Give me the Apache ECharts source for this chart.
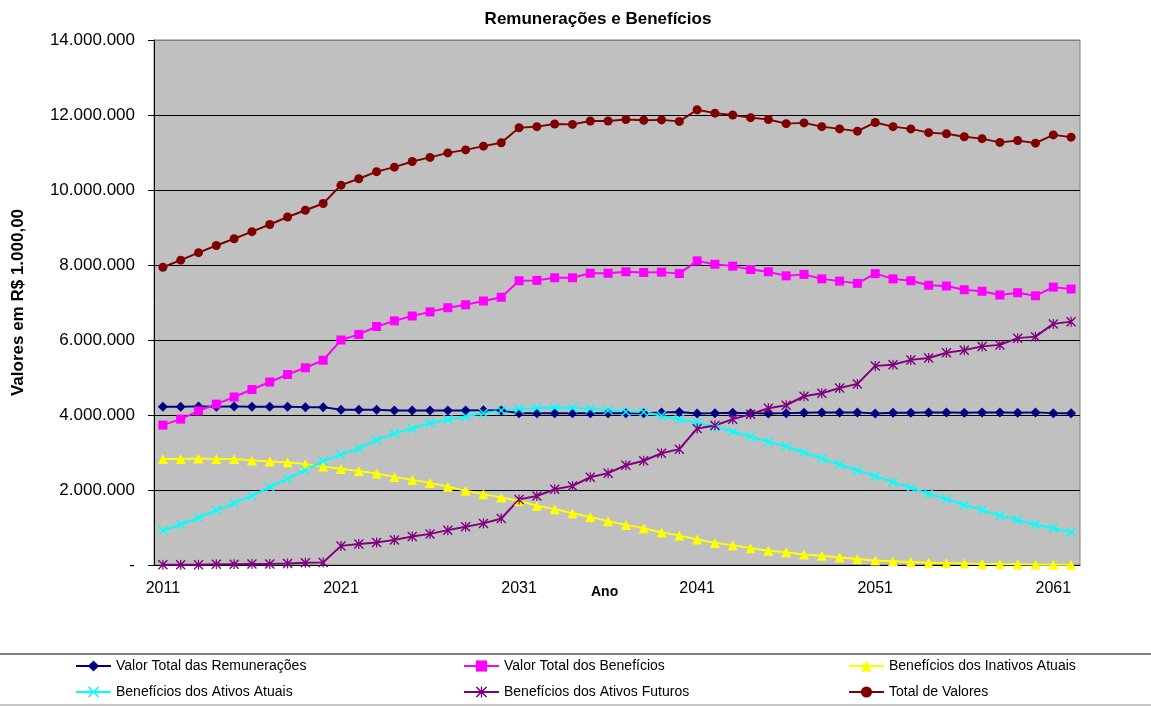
<!DOCTYPE html>
<html>
<head>
<meta charset="utf-8">
<script src="https://cdn.jsdelivr.net/npm/echarts@6/dist/echarts.min.js"></script>
<style>
html,body{margin:0;padding:0;background:#fff;}
#chart{width:1151px;height:706px;}
</style>
</head>
<body>
<div id="chart"></div>
<script>
const years = ['2011','2012','2013','2014','2015','2016','2017','2018','2019','2020',
'2021','2022','2023','2024','2025','2026','2027','2028','2029','2030',
'2031','2032','2033','2034','2035','2036','2037','2038','2039','2040',
'2041','2042','2043','2044','2045','2046','2047','2048','2049','2050',
'2051','2052','2053','2054','2055','2056','2057','2058','2059','2060',
'2061','2062'];

const remuneracoes = [4220000,4220000,4230000,4220000,4230000,4220000,4220000,4220000,4210000,4210000,
4140000,4140000,4140000,4120000,4120000,4120000,4120000,4120000,4130000,4120000,
4050000,4050000,4050000,4050000,4050000,4050000,4050000,4050000,4070000,4080000,
4040000,4050000,4060000,4050000,4040000,4050000,4060000,4070000,4070000,4070000,
4040000,4060000,4060000,4070000,4070000,4060000,4070000,4070000,4060000,4070000,
4050000,4050000];

const beneficios = [3730000,3890000,4110000,4290000,4480000,4680000,4880000,5080000,5260000,5460000,
6000000,6150000,6360000,6510000,6640000,6750000,6860000,6940000,7040000,7140000,
7580000,7590000,7660000,7660000,7780000,7780000,7820000,7800000,7810000,7770000,
8110000,8020000,7970000,7880000,7820000,7710000,7750000,7630000,7570000,7510000,
7770000,7630000,7580000,7460000,7440000,7340000,7300000,7200000,7260000,7180000,
7410000,7360000];

const inativosAtuais = [2830000,2830000,2840000,2830000,2830000,2790000,2760000,2740000,2690000,2630000,
2560000,2510000,2440000,2350000,2270000,2190000,2090000,1980000,1890000,1800000,
1710000,1580000,1490000,1380000,1280000,1170000,1070000,980000,870000,790000,
680000,590000,530000,450000,380000,340000,280000,250000,200000,160000,
120000,100000,80000,60000,50000,40000,30000,20000,20000,10000,
10000,10000];

const ativosAtuais = [920000,1080000,1260000,1460000,1650000,1850000,2080000,2300000,2530000,2770000,
2950000,3110000,3330000,3510000,3640000,3780000,3880000,3960000,4050000,4120000,
4160000,4190000,4200000,4190000,4170000,4130000,4090000,4080000,3980000,3880000,
3800000,3690000,3560000,3420000,3290000,3160000,3000000,2840000,2680000,2520000,
2370000,2210000,2060000,1900000,1760000,1600000,1470000,1320000,1200000,1080000,
980000,870000];

const ativosFuturos = [10000,10000,10000,20000,20000,30000,30000,40000,60000,70000,
510000,560000,600000,670000,760000,830000,930000,1020000,1110000,1240000,
1750000,1840000,2020000,2110000,2340000,2450000,2660000,2780000,2980000,3090000,
3640000,3720000,3890000,4020000,4180000,4260000,4500000,4580000,4720000,4830000,
5310000,5340000,5470000,5520000,5660000,5730000,5830000,5870000,6050000,6090000,
6430000,6490000];

const totalValores = [7940000,8130000,8330000,8520000,8700000,8890000,9080000,9280000,9460000,9640000,
10130000,10300000,10490000,10610000,10760000,10870000,10990000,11070000,11170000,11260000,
11660000,11690000,11760000,11750000,11840000,11840000,11880000,11860000,11870000,11830000,
12140000,12050000,12000000,11930000,11880000,11770000,11790000,11690000,11630000,11570000,
11800000,11690000,11630000,11530000,11500000,11420000,11370000,11270000,11320000,11250000,
11470000,11410000];

const seriesNames = ['Valor Total das Remunerações','Valor Total dos Benefícios','Benefícios dos Inativos Atuais',
'Benefícios dos Ativos Atuais','Benefícios dos Ativos Futuros','Total de Valores'];

const X_PATH = 'path://M0,1L1,0L5,4L9,0L10,1L6,5L10,9L9,10L5,6L1,10L0,9L4,5Z';
const STAR_PATH = 'path://M0,1L1,0L5,4L9,0L10,1L6,5L10,9L9,10L5,6L1,10L0,9L4,5ZM4.4,0L5.6,0L5.6,10L4.4,10Z';

function fmt(v){
  if (v === 0) return '-';
  return String(v).replace(/\B(?=(\d{3})+(?!\d))/g, '.');
}

const FONT = 'Liberation Sans, Arial, sans-serif';

function mk(name, data, color, symbol, size){
  return {
    name: name, type: 'line', data: data,
    symbol: symbol, symbolSize: size,
    lineStyle: {color: color, width: 2},
    itemStyle: {color: color},
    animation: false
  };
}

function lg(name, left, top){
  return {
    data: [name], left: left, top: top, orient: 'horizontal',
    itemWidth: 35, itemHeight: 14, padding: 0,
    textStyle: {fontFamily: FONT, fontSize: 14, color: '#000'}
  };
}

const chart = echarts.init(document.getElementById('chart'), null, {renderer: 'canvas'});
chart.setOption({
  backgroundColor: '#fff',
  textStyle: {fontFamily: FONT},
  title: {
    text: 'Remunerações e Benefícios',
    left: 593, top: 6, textAlign: 'center',
    textStyle: {fontFamily: FONT, fontSize: 17, fontWeight: 'bold', color: '#000'}
  },
  grid: {
    left: 154, right: 71, top: 40, bottom: 141,
    show: true, backgroundColor: '#C0C0C0', borderColor: '#808080', borderWidth: 1
  },
  legend: [
    lg(seriesNames[0], 75, 659),
    lg(seriesNames[1], 463, 659),
    lg(seriesNames[2], 848, 659),
    lg(seriesNames[3], 75, 685),
    lg(seriesNames[4], 463, 685),
    lg(seriesNames[5], 848, 685)
  ],
  xAxis: {
    type: 'category', data: years, boundaryGap: true,
    axisLine: {lineStyle: {color: '#000', width: 1}},
    axisTick: {interval: 0, length: 6, lineStyle: {color: '#000'}},
    axisLabel: {interval: 9, margin: 16, fontFamily: FONT, fontSize: 16, color: '#000'},
    splitLine: {show: false}
  },
  yAxis: {
    type: 'value', min: 0, max: 14000000, interval: 2000000,
    name: 'Valores em R$ 1.000,00', nameLocation: 'middle', nameGap: 127,
    nameTextStyle: {fontFamily: FONT, fontSize: 17, fontWeight: 'bold', color: '#000'},
    axisLine: {show: true, lineStyle: {color: '#000', width: 1}},
    axisTick: {show: true, length: 6, lineStyle: {color: '#000'}},
    axisLabel: {margin: 19, fontFamily: FONT, fontSize: 17, color: '#000', formatter: fmt},
    splitLine: {show: true, lineStyle: {color: ['#000','#000','#000','#000','#000','#000','#000','#808080'], width: 1}}
  },
  graphic: [
    {type: 'text', left: 591, top: 585, style: {text: 'Ano', font: 'bold 14px Liberation Sans, Arial, sans-serif', fill: '#000'}},
    {type: 'line', shape: {x1: 0, y1: 654, x2: 1151, y2: 654}, style: {stroke: '#808080', lineWidth: 2}},
    {type: 'line', shape: {x1: 0, y1: 705, x2: 1151, y2: 705}, style: {stroke: '#C8C8C8', lineWidth: 2}}
  ],
  series: [
    mk(seriesNames[0], remuneracoes, '#000080', 'diamond', 10),
    mk(seriesNames[1], beneficios, '#FF00FF', 'rect', 9),
    mk(seriesNames[2], inativosAtuais, '#FFFF00', 'triangle', 10),
    mk(seriesNames[3], ativosAtuais, '#00FFFF', X_PATH, 10),
    mk(seriesNames[4], ativosFuturos, '#800080', STAR_PATH, 10),
    mk(seriesNames[5], totalValores, '#800000', 'circle', 9)
  ]
});
</script>
</body>
</html>
